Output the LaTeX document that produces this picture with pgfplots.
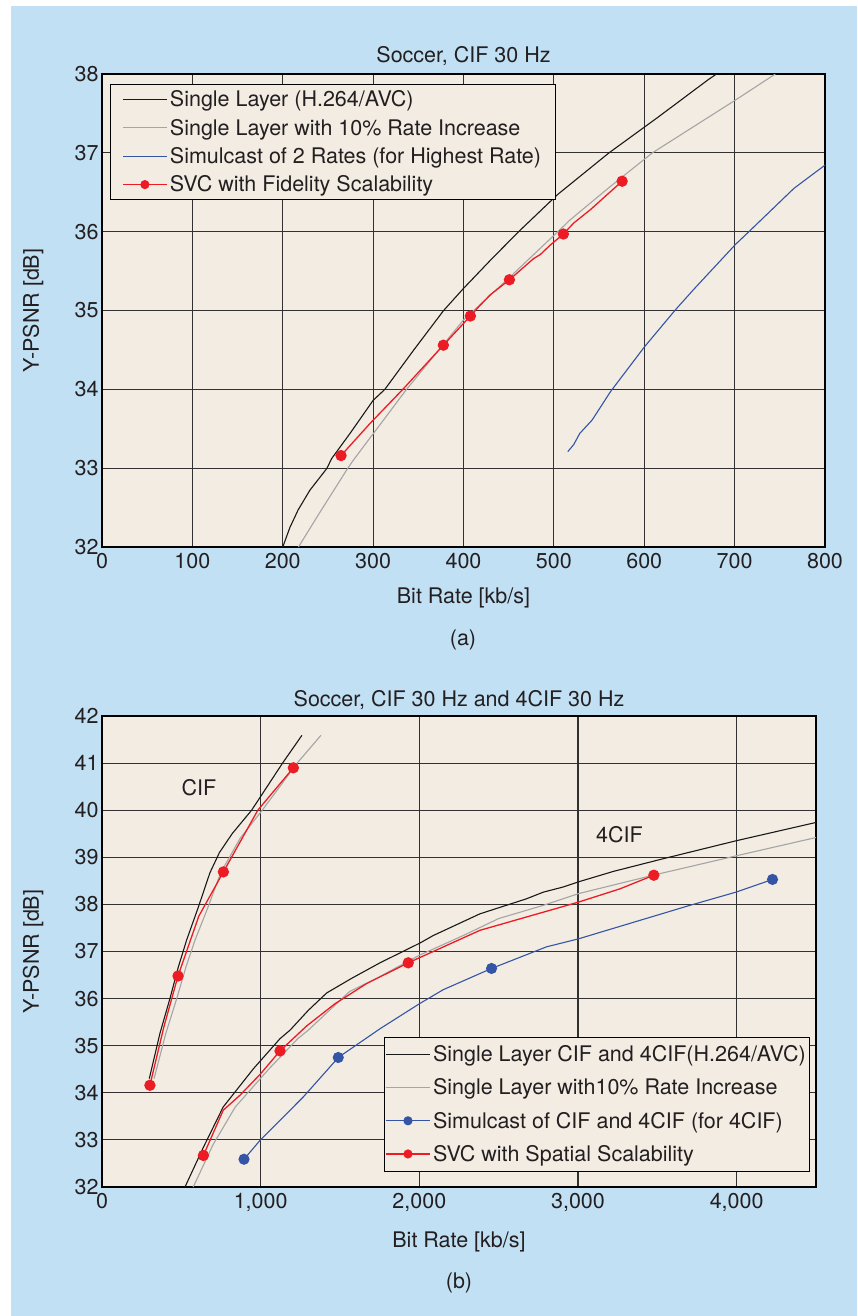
\documentclass[border=0pt]{standalone}
\usepackage{fontspec}
\setmainfont{TeX Gyre Heros}
\usepackage{pgfplots}
\pgfplotsset{compat=1.18}
\definecolor{bgblue}{RGB}{194,224,244}
\definecolor{plotbg}{RGB}{242,236,227}
\definecolor{gridc}{RGB}{50,48,48}
\definecolor{txt}{RGB}{35,31,32}
\definecolor{svcred}{RGB}{237,28,36}
\definecolor{simblue}{RGB}{52,84,165}
\definecolor{slgray}{RGB}{165,165,165}
\definecolor{slblack}{RGB}{25,25,25}
\newcommand{\fs}{\fontsize{21.5}{25}\selectfont}
\pgfplotsset{
 mystyle/.style={
  scale only axis,
  font=\fs,
  axis background/.style={fill=plotbg},
  grid=major,
  major grid style={line width=1.1pt, gridc},
  axis line style={line width=2pt, black},
  major tick length=0pt,
  tick label style={font=\fs, text=txt},
  /pgf/number format/assume math mode=true,
  label style={font=\fs, text=txt},
  title style={font=\fs, text=txt},
  legend cell align=left,
  legend image code/.code={\draw[mark repeat=2,mark phase=2,#1] plot coordinates {(0pt,0pt) (22pt,0pt) (44pt,0pt)};},
 }
}
\begin{document}
\begin{tikzpicture}
\useasboundingbox (0,0) rectangle (857pt,-1316pt);
\fill[white] (0,0) rectangle (857pt,-1316pt);
\fill[bgblue] (11pt,-6pt) rectangle (857pt,-1316pt);

% ---------------- (a) ----------------
\begin{axis}[mystyle,
  at={(102pt,-547pt)}, anchor=south west,
  width=723pt, height=473pt,
  xmin=0, xmax=800, ymin=32, ymax=38,
  xtick={0,100,...,800}, ytick={32,33,...,38},
  title={Soccer, CIF 30 Hz},
  title style={at={(axis description cs:0.5,1)}, anchor=base, yshift=5.7pt},
  xlabel={Bit Rate [kb/s]},
  ylabel={Y-PSNR [dB]},
  xlabel style={at={(axis description cs:0.5,-0.108)}, anchor=center},
  ylabel style={at={(axis description cs:-0.0954,0.5)}, anchor=center},
  xticklabel style={yshift=-3pt},
  legend style={draw=black, line width=0.8pt, fill=plotbg, font=\fs, text=txt,
    at={(axis description cs:0.011,0.979)}, anchor=north west,
    inner xsep=12pt, inner ysep=1pt,
    nodes={inner xsep=2.5pt, inner ysep=5.4pt}},
]
\addlegendimage{slblack, line width=1.1pt}
\addlegendentry{Single Layer (H.264/AVC)}
\addlegendimage{slgray, line width=1.1pt}
\addlegendentry{Single Layer with 10\% Rate Increase}
\addlegendimage{simblue, line width=1.1pt}
\addlegendentry{Simulcast of 2 Rates (for Highest Rate)}
\addlegendimage{svcred, line width=1.1pt, mark=*, mark size=4pt}
\addlegendentry{SVC with Fidelity Scalability}

\addplot[forget plot, slblack, line width=1.1pt] coordinates {
 (200,32.0) (208,32.25) (217,32.47) (230,32.72) (249,33.0) (254,33.12) (275,33.45) (300,33.86) (313,34.0) (345,34.5) (378,35.0)
 (400,35.28) (430,35.64) (461,36.0) (504,36.47) (561,37.0) (615,37.45) (671,37.93) (680,38.0)};
\addplot[forget plot, slgray, line width=1.1pt] coordinates {
 (217.4,32.0) (240,32.42) (272,33.0) (278,33.10) (337,34.0) (400,34.88) (450,35.41)
 (509,36.05) (518,36.15) (560,36.55) (609,37.0) (701,37.67) (745,38.0)};
\addplot[forget plot, simblue, line width=1.1pt] coordinates {
 (515.4,33.21) (522,33.3) (528.6,33.44) (542.3,33.61) (562.6,33.97) (600.3,34.54)
 (634.6,35.01) (654.9,35.27) (701.1,35.84) (715.8,36.0) (765.7,36.55) (800.7,36.85)};
\addplot[forget plot, svcred, line width=1.3pt, mark=*, mark size=5pt,
  mark options={solid, fill=svcred, draw=svcred}, mark indices={1,4,5,8,12,15}] coordinates {
 (264.5,33.16) (296.8,33.57) (333.7,34.01) (377.7,34.56) (407.6,34.93) (418.7,35.07)
 (429.7,35.20) (450.8,35.39) (477.7,35.66) (485,35.71) (496,35.83) (510.5,35.97)
 (522,36.11) (540.5,36.28) (575.5,36.64)};
\end{axis}
\node[font=\fs, text=txt] at (463pt,-640pt) {(a)};

% ---------------- (b) ----------------
\begin{axis}[mystyle,
  at={(102pt,-1187pt)}, anchor=south west,
  width=714pt, height=471pt,
  xmin=0, xmax=4500, ymin=32, ymax=42,
  xtick={0,1000,...,4000}, ytick={32,33,...,42},
  /pgf/number format/.cd, 1000 sep={,}, /pgfplots/.cd,
  scaled x ticks=false,
  title={Soccer, CIF 30 Hz and 4CIF 30 Hz},
  title style={at={(axis description cs:0.5,1)}, anchor=base, yshift=4pt},
  xlabel={Bit Rate [kb/s]},
  ylabel={Y-PSNR [dB]},
  xlabel style={at={(axis description cs:0.5,-0.1168)}, anchor=center},
  ylabel style={at={(axis description cs:-0.0966,0.5)}, anchor=center},
  xticklabel style={yshift=-3pt},
  legend style={draw=black, line width=0.8pt, fill=plotbg, font=\fs, text=txt,
    at={(axis description cs:0.395,0.3185)}, anchor=north west,
    inner xsep=1pt, inner ysep=0.5pt,
    nodes={inner xsep=2.5pt, inner ysep=7.8pt}},
]
\addlegendimage{slblack, line width=1.1pt}
\addlegendentry{Single Layer CIF and 4CIF(H.264/AVC)}
\addlegendimage{slgray, line width=1.1pt}
\addlegendentry{Single Layer with10\% Rate Increase}
\addlegendimage{simblue, line width=1.1pt, mark=*, mark size=4pt}
\addlegendentry{Simulcast of CIF and 4CIF (for 4CIF)}
\addlegendimage{svcred, line width=1.1pt, mark=*, mark size=4pt}
\addlegendentry{SVC with Spatial Scalability}

% CIF black
\addplot[forget plot, slblack, line width=1.1pt] coordinates {
 (298,34.30) (365,35.26) (428,36.0) (481,36.67) (533,37.24) (607,37.94) (680,38.67)
 (740,39.1) (820,39.5) (943,40.0) (1138,41.0) (1260,41.59)};
% 4CIF black
\addplot[forget plot, slblack, line width=1.1pt] coordinates {
 (523,32.0) (640,32.85) (764,33.70) (954,34.51) (1122,35.15) (1185,35.33) (1300,35.75) (1416,36.12)
 (1573,36.43) (1752,36.76) (2004,37.18) (2088,37.34) (2382,37.80) (2676,38.12)
 (2781,38.26) (2907,38.37) (3004,38.48) (3222,38.70) (3537,38.97) (3995,39.35) (4500,39.74)};
% CIF gray
\addplot[forget plot, slgray, line width=1.1pt] coordinates {
 (328,34.30) (402,35.26) (471,36.0) (529,36.67) (586,37.24) (668,37.94) (748,38.67)
 (870,39.4) (1010,40.0) (1230,41.0) (1380,41.59)};
% 4CIF gray
\addplot[forget plot, slgray, line width=1.1pt] coordinates {
 (575,32.0) (700,32.9) (840,33.7) (1050,34.5) (1234,35.15) (1300,35.33) (1560,36.15)
 (1730,36.43) (2000,36.92) (2277,37.34) (2500,37.7) (2781,37.98) (3004,38.23)
 (3474,38.62) (3995,39.03) (4500,39.42)};
% 4CIF blue simulcast
\addplot[forget plot, simblue, line width=1.1pt, mark=*, mark size=5pt,
  mark options={solid, fill=simblue, draw=simblue}, mark indices={1,5,9,14}] coordinates {
 (895,32.59) (996,32.99) (1268,33.91) (1437,34.55) (1489,34.75) (1752,35.36) (2000,35.89)
 (2151,36.19) (2455,36.64) (2802,37.10) (3004,37.27) (3695,37.97) (3995,38.26) (4226,38.53)};
% CIF red
\addplot[forget plot, svcred, line width=1.3pt, mark=*, mark size=5pt,
  mark options={solid, fill=svcred, draw=svcred}, mark indices={1,3,5,7}] coordinates {
 (302,34.16) (390,35.4) (479,36.48) (610,37.75) (765,38.69) (982,40.0) (1206,40.90)};
% 4CIF red
\addplot[forget plot, svcred, line width=1.3pt, mark=*, mark size=5pt,
  mark options={solid, fill=svcred, draw=svcred}, mark indices={1,5,9,13}] coordinates {
 (639,32.67) (764,33.63) (870,33.95) (996,34.39) (1122,34.89) (1290,35.42) (1468,35.89)
 (1668,36.32) (1930,36.76) (2382,37.45) (3004,38.05) (3264,38.33) (3478,38.62)};

\node[font=\fs, text=txt] at (axis cs:611,40.47) {CIF};
\node[font=\fs, text=txt] at (axis cs:3261,39.49) {4CIF};
\end{axis}
\node[font=\fs, text=txt] at (459pt,-1283pt) {(b)};
\end{tikzpicture}
\end{document}
